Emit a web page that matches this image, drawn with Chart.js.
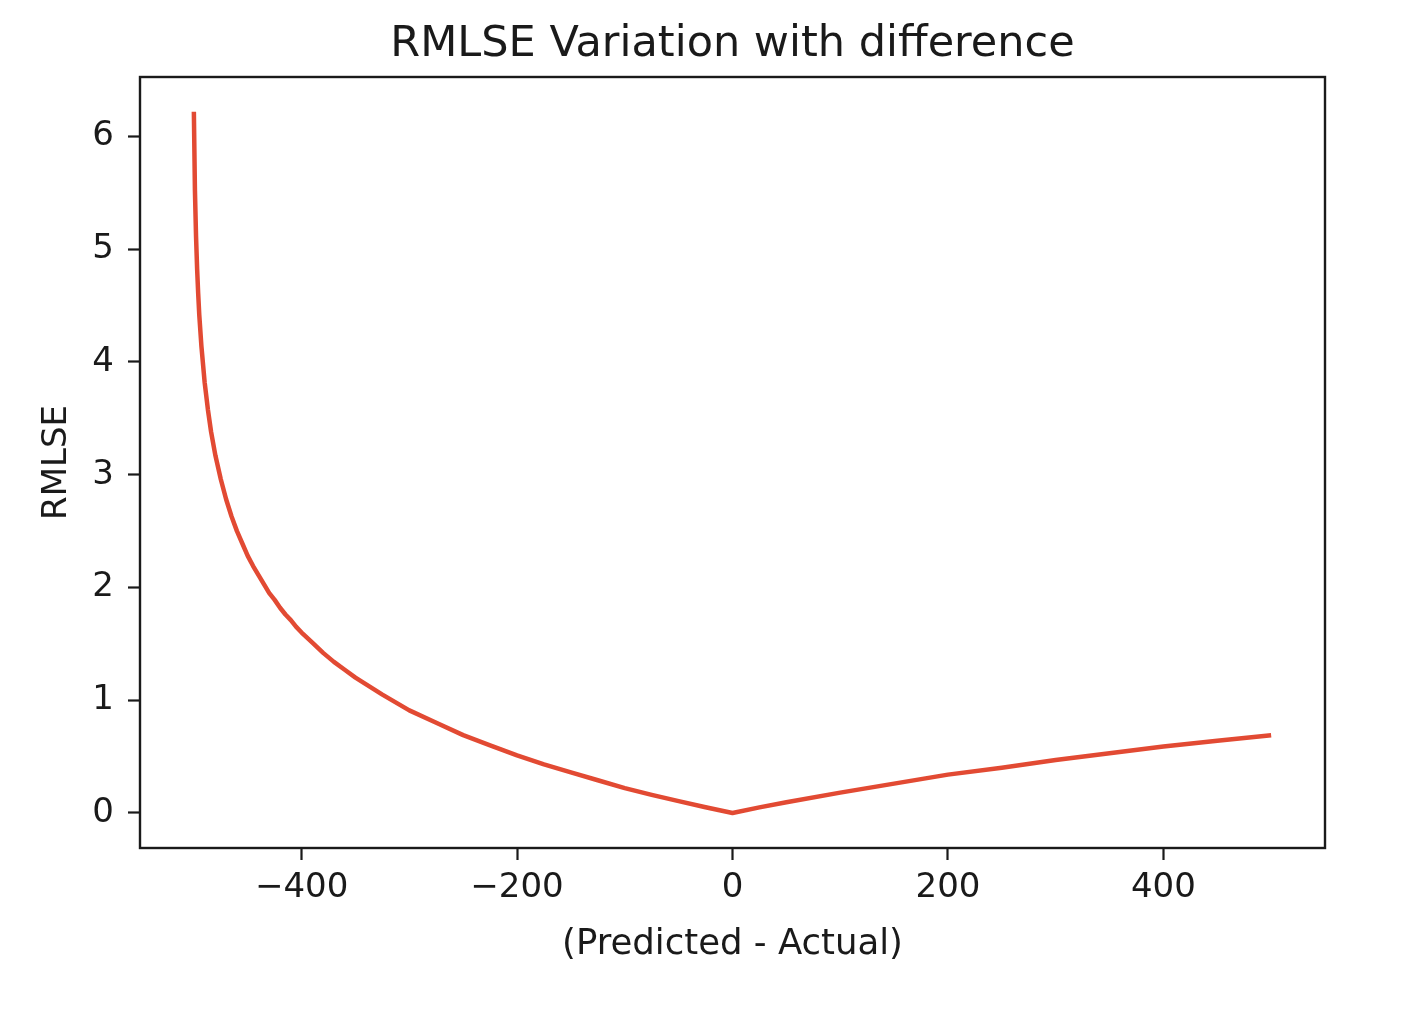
<!DOCTYPE html>
<html>
<head>
<meta charset="utf-8">
<script src="https://cdn.jsdelivr.net/npm/chart.js@4"></script>
<style>
  html, body { margin: 0; padding: 0; background: #fff; }
  #wrap { width: 1404px; height: 1014px; }
</style>
</head>
<body>
<div id="wrap"><canvas id="c" width="1404" height="1014"></canvas></div>
<script>
// Difference values (Predicted - Actual)
const diffs = [-500, -499, -498, -497, -496, -495, -493, -490, -487, -484, -480, -475, -470, -465, -460, -455,
  -450, -445, -440, -435, -430, -425, -420, -415, -410, -405, -400, -390, -380, -370, -360, -350, -325, -300, -275, -250, -225, -200,
  -175, -150, -125, -100, -75, -50, -25, 0, 25, 50, 100, 150, 200, 250, 300, 350, 400, 450, 500];
// RMLSE values
const rmlse = [6.22, 5.52, 5.12, 4.83, 4.61, 4.42, 4.14, 3.82, 3.58, 3.38, 3.17, 2.96, 2.78, 2.63, 2.50, 2.39,
  2.28, 2.19, 2.11, 2.03, 1.95, 1.89, 1.82, 1.76, 1.71, 1.65, 1.60, 1.51, 1.42, 1.34, 1.27, 1.20, 1.05, 0.91, 0.80, 0.69, 0.60, 0.51,
  0.43, 0.36, 0.29, 0.22, 0.16, 0.105, 0.05, 0, 0.049, 0.095, 0.18, 0.26, 0.34, 0.40, 0.47, 0.53, 0.59, 0.64, 0.69];
const xTicks = [-400, -200, 0, 200, 400];
const yTicks = [0, 1, 2, 3, 4, 5, 6];

const FONT = "'DejaVu Sans', sans-serif";
const TEXT = '#1a1a1a';
const points = diffs.map((d, i) => ({ x: d, y: rmlse[i] }));

const frame = {
  id: 'frame',
  afterDatasetsDraw(chart) {
    const a = chart.chartArea, ctx = chart.ctx;
    ctx.save();
    ctx.strokeStyle = '#1a1a1a';
    ctx.lineWidth = 2.4;
    ctx.strokeRect(a.left, a.top, a.right - a.left, a.bottom - a.top);
    ctx.restore();
  }
};

new Chart(document.getElementById('c'), {
  type: 'line',
  data: {
    datasets: [{
      data: points,
      borderColor: '#E24A33',
      borderWidth: 4.5,
      borderJoinStyle: 'round',
      borderCapStyle: 'butt',
      pointRadius: 0,
      tension: 0,
      fill: false
    }]
  },
  options: {
    responsive: false,
    animation: false,
    devicePixelRatio: 1,
    layout: { padding: { left: 0, right: 79, top: 0, bottom: 0 } },
    plugins: {
      legend: { display: false },
      tooltip: { enabled: false },
      title: {
        display: true,
        fullSize: false,
        text: 'RMLSE Variation with difference',
        color: TEXT,
        font: { family: FONT, size: 43, weight: 'normal' },
        padding: { top: 19, bottom: 6.4 }
      }
    },
    scales: {
      x: {
        type: 'linear',
        min: -550, max: 550,
        afterBuildTicks: s => { s.ticks = xTicks.map(v => ({ value: v })); },
        afterFit: s => { s.height = 166; },
        ticks: {
          color: TEXT,
          font: { family: FONT, size: 34 },
          padding: 8,
          maxRotation: 0,
          callback: v => (v < 0 ? '\u2212' + Math.abs(v) : String(v))
        },
        grid: { drawOnChartArea: false, drawTicks: true, tickLength: 12, tickWidth: 2.2, tickColor: '#1a1a1a' },
        border: { display: false },
        title: {
          display: true,
          text: '(Predicted - Actual)',
          color: TEXT,
          font: { family: FONT, size: 35.5 },
          padding: { top: 0, bottom: 48 }
        }
      },
      y: {
        type: 'linear',
        min: -0.311, max: 6.528,
        afterBuildTicks: s => { s.ticks = yTicks.map(v => ({ value: v })); },
        afterFit: s => { s.width = 140; },
        ticks: {
          color: TEXT,
          font: { family: FONT, size: 34 },
          padding: 14,
          callback: v => String(v)
        },
        grid: { drawOnChartArea: false, drawTicks: true, tickLength: 12, tickWidth: 2.2, tickColor: '#1a1a1a' },
        border: { display: false },
        title: {
          display: true,
          text: 'RMLSE',
          color: TEXT,
          font: { family: FONT, size: 34 },
          padding: { top: 37, bottom: 0 }
        }
      }
    }
  },
  plugins: [frame]
});
</script>
</body>
</html>
